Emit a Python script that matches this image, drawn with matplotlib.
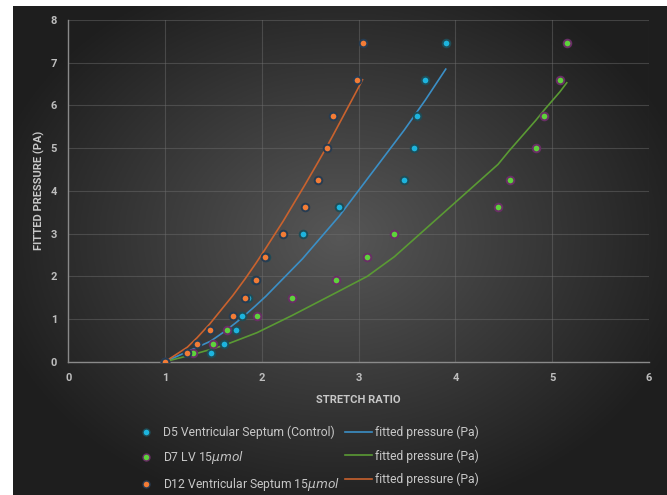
import numpy as np
import matplotlib
matplotlib.use("Agg")
import matplotlib.pyplot as plt
from matplotlib.lines import Line2D

plt.rcParams['font.family'] = ['Roboto', 'DejaVu Sans']

# measured pressure levels (same for every sample)
pressure = [0, 0.21, 0.42, 0.74, 1.06, 1.49, 1.91, 2.45, 2.98, 3.62, 4.25, 5.0, 5.75, 6.6, 7.46]

# stretch ratios
d5_x = [1, 1.47, 1.61, 1.73, 1.79, 1.86, 1.93, 2.04, 2.42, 2.80, 3.47, 3.57, 3.60, 3.69, 3.90]
d7_x = [1, 1.29, 1.49, 1.64, 1.95, 2.31, 2.77, 3.09, 3.37, 4.44, 4.56, 4.83, 4.92, 5.08, 5.15]
d12_x = [1, 1.23, 1.33, 1.46, 1.70, 1.83, 1.94, 2.03, 2.22, 2.45, 2.58, 2.67, 2.73, 2.98, 3.04]

# fitted pressure at the same stretch ratios
d5_fit = [0, 0.48, 0.70, 0.91, 1.02, 1.16, 1.30, 1.53, 2.41, 3.41, 5.42, 5.74, 5.84, 6.13, 6.85]
d7_fit = [0, 0.17, 0.30, 0.41, 0.68, 1.08, 1.62, 2.00, 2.46, 4.62, 4.95, 5.65, 5.90, 6.32, 6.53]
d12_fit = [0, 0.34, 0.56, 0.88, 1.55, 1.95, 2.31, 2.62, 3.29, 4.16, 4.67, 5.03, 5.28, 6.34, 6.60]

labels = ['D5 Ventricular Septum (Control)', 'D7 LV 15$\\mu mol$', 'D12 Ventricular Septum 15$\\mu mol$']

fig = plt.figure(figsize=(6.67, 4.95), dpi=100, facecolor='white')

# dark radial background
bg = fig.add_axes([13 / 667, 0, 1 - 13 / 667, 1 - 6 / 495])
gx, gy = np.meshgrid(np.linspace(-1, 1, 300), np.linspace(-1, 1, 300))
r = np.sqrt((gx * 1.0) ** 2 + (gy * 0.95 + 0.05) ** 2)
shade = np.clip(0.34 - 0.2 * r, 0.12, 0.34)
bg.imshow(np.dstack([shade, shade, shade]), aspect='auto', extent=[0, 1, 0, 1])
bg.axis('off')

ax = fig.add_axes([68.3 / 667, 1 - 361.7 / 495, (649 - 68.3) / 667, (361.7 - 20) / 495])
ax.patch.set_alpha(0)

ax.plot(d5_x, d5_fit, color='#3b8fc6', lw=1.2, zorder=2)
ax.plot(d7_x, d7_fit, color='#5a9a34', lw=1.2, zorder=2)
ax.plot(d12_x, d12_fit, color='#c9622e', lw=1.2, zorder=2)

ax.scatter(d7_x, pressure, s=30, color='#5ed23c', edgecolor='#6a2e66', lw=1.4, zorder=3)
ax.scatter(d5_x, pressure, s=30, color='#1db4de', edgecolor='#1f4c56', lw=1.4, zorder=4)
ax.scatter(d12_x, pressure, s=30, color='#f27c36', edgecolor='#263c52', lw=1.4, zorder=5)

ax.set_xlim(0, 6)
ax.set_ylim(0, 8)
ax.set_xticks(range(7))
ax.set_yticks(range(9))
ax.grid(color='#707070', lw=0.8, alpha=0.45)
ax.set_axisbelow(True)
for s in ['top', 'right']:
    ax.spines[s].set_visible(False)
for s in ['left', 'bottom']:
    ax.spines[s].set_color('#8a8a8a')
    ax.spines[s].set_linewidth(1.0)
ax.tick_params(length=0, pad=8, labelcolor='#bdbdbd', labelsize=8)
for t in ax.get_xticklabels() + ax.get_yticklabels():
    t.set_fontweight('bold')

ax.set_xlabel('STRETCH RATIO', color='#c8c8c8', fontsize=8, fontweight='bold', labelpad=9)
ax.set_ylabel('FITTED PRESSURE (PA)', color='#c8c8c8', fontsize=8, fontweight='bold', labelpad=4)

# legend: markers in first column, fitted lines in second
handles = [
    Line2D([], [], ls='', marker='o', ms=5, color='#1db4de', mec='#1f4c56'),
    Line2D([], [], ls='', marker='o', ms=5, color='#5ed23c', mec='#6a2e66'),
    Line2D([], [], ls='', marker='o', ms=5, color='#f27c36', mec='#263c52'),
    Line2D([], [], color='#3b8fc6', lw=1.2),
    Line2D([], [], color='#5a9a34', lw=1.2),
    Line2D([], [], color='#c9622e', lw=1.2),
]
names = labels + ['fitted pressure (Pa)'] * 3
fig.legend(handles, names, ncol=2, loc='center left', bbox_to_anchor=(0.187, 0.072),
           frameon=False, fontsize=8.7, labelcolor='#c8c8c8', handlelength=2.2,
           handletextpad=0.3, columnspacing=0.4, labelspacing=0.85, borderpad=0.2)

fig.savefig('out.png', dpi=100)
